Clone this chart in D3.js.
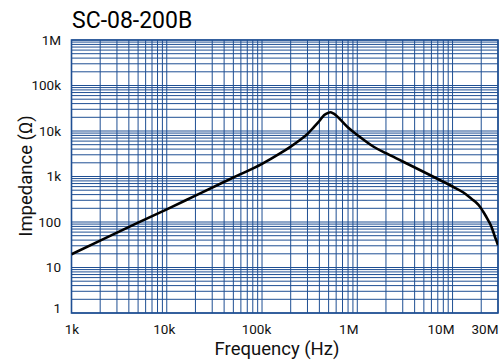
<!DOCTYPE html>
<html>
<head>
<meta charset="utf-8">
<script src="https://cdn.jsdelivr.net/npm/d3@7"></script>
<style>
  html, body { margin: 0; padding: 0; background: #fff; }
  svg { display: block; font-family: Roboto, "Noto Sans", sans-serif; }
</style>
</head>
<body>
<svg id="chart" width="500" height="360"></svg>
<script>
// ---- data ----
const chartTitle = "SC-08-200B";
const xTitle = "Frequency (Hz)";
const yTitle = "Impedance (\u03A9)";
const frequencyHz = [1e3, 2e3, 5e3, 1e4, 2e4, 5e4, 1e5, 1.5e5, 2e5, 2.5e5, 3e5, 3.5e5, 4e5, 4.5e5, 5e5, 5.2e5, 5.6e5, 6e5, 7e5, 8e5, 1e6, 1.5e6, 2e6, 3e6, 5e6, 7e6, 1e7, 1.3e7, 1.6e7, 1.79e7, 1.94e7, 2.1e7, 2.25e7, 2.37e7, 2.47e7, 2.59e7, 2.68e7, 2.79e7, 2.91e7, 3e7];
const impedanceOhm = [19.5, 39, 97, 190, 380, 950, 1900, 3100, 4550, 6340, 8600, 12200, 16600, 22500, 25200, 25800, 24300, 21900, 15800, 11900, 8200, 4450, 3250, 2140, 1256, 881, 603, 445, 316, 262, 217, 168, 132, 108, 92.7, 73.8, 60.3, 46.8, 37.3, 31];
const xTickValues = [1e3, 1e4, 1e5, 1e6, 1e7, 3e7];
const xTickLabels = ["1k", "10k", "100k", "1M", "10M", "30M"];
const yTickValues = [1, 10, 100, 1e3, 1e4, 1e5, 1e6];
const yTickLabels = ["1", "10", "100", "1k", "10k", "100k", "1M"];

// ---- layout ----
const W = 500, H = 360;
const m = { left: 71.5, right: 2, top: 40, bottom: 47 };
const gridColor = "#1f4f93";

const svg = d3.select("#chart");
const x = d3.scaleLog().domain([1e3, 3e7]).range([m.left, W - m.right]);
const y = d3.scaleLog().domain([1, 1e6]).range([H - m.bottom, m.top]);
const xLabelScale = x.copy().range([m.left + 0.5, W - m.right - 13]);

// grid values: 1..9 x 10^k within domain
function logGrid(lo, hi) {
  const out = [];
  for (let e = Math.floor(Math.log10(lo)); e <= Math.ceil(Math.log10(hi)); e++) {
    for (let k = 1; k <= 9; k++) {
      const v = k * Math.pow(10, e);
      if (v >= lo * 0.999 && v <= hi * 1.001) out.push(v);
    }
  }
  return out;
}

const grid = svg.append("g");
grid.selectAll("line.v").data(logGrid(1e3, 3e7)).join("line")
  .attr("class", "v")
  .attr("x1", d => x(d)).attr("x2", d => x(d))
  .attr("y1", y(1)).attr("y2", y(1e6))
  .attr("stroke", gridColor).attr("stroke-width", 1);
grid.selectAll("line.h").data(logGrid(1, 1e6)).join("line")
  .attr("class", "h")
  .attr("y1", d => y(d)).attr("y2", d => y(d))
  .attr("x1", x(1e3)).attr("x2", x(3e7))
  .attr("stroke", gridColor).attr("stroke-width", 1);

svg.append("rect")
  .attr("x", x(1e3)).attr("y", y(1e6))
  .attr("width", x(3e7) - x(1e3)).attr("height", y(1) - y(1e6))
  .attr("fill", "none").attr("stroke", gridColor).attr("stroke-width", 1.6);

// curve
const pts = frequencyHz.map((f, i) => [f, impedanceOhm[i]]);
svg.append("defs").append("clipPath").attr("id", "clip")
  .append("rect").attr("x", x(1e3)).attr("y", y(1e6))
  .attr("width", x(3e7) - x(1e3)).attr("height", y(1) - y(1e6));
svg.append("path")
  .datum(pts)
  .attr("clip-path", "url(#clip)")
  .attr("fill", "none").attr("stroke", "#000").attr("stroke-width", 2.6)
  .attr("stroke-linejoin", "round")
  .attr("d", d3.line().x(d => x(d[0])).y(d => y(d[1])).curve(d3.curveMonotoneX));

// tick labels
svg.append("g").selectAll("text").data(xTickValues).join("text")
  .attr("x", d => xLabelScale(d))
  .attr("y", 334)
  .attr("text-anchor", "middle")
  .attr("font-size", 13.5).attr("fill", "#111")
  .text((d, i) => xTickLabels[i]);

svg.append("g").selectAll("text").data(yTickValues).join("text")
  .attr("x", 61)
  .attr("y", d => Math.min(y(d), y(1) - 4.5))
  .attr("dy", "0.35em")
  .attr("text-anchor", "end")
  .attr("font-size", 13.5).attr("fill", "#111")
  .text((d, i) => yTickLabels[i]);

// titles
svg.append("text").attr("x", 72).attr("y", 28)
  .attr("font-size", 23).attr("fill", "#000").text(chartTitle);
svg.append("text").attr("x", 277).attr("y", 355)
  .attr("text-anchor", "middle").attr("font-size", 18.5).attr("fill", "#111").text(xTitle);
svg.append("text").attr("transform", "translate(32,176) rotate(-90)")
  .attr("text-anchor", "middle").attr("font-size", 18.5).attr("fill", "#111").text(yTitle);
</script>
</body>
</html>
